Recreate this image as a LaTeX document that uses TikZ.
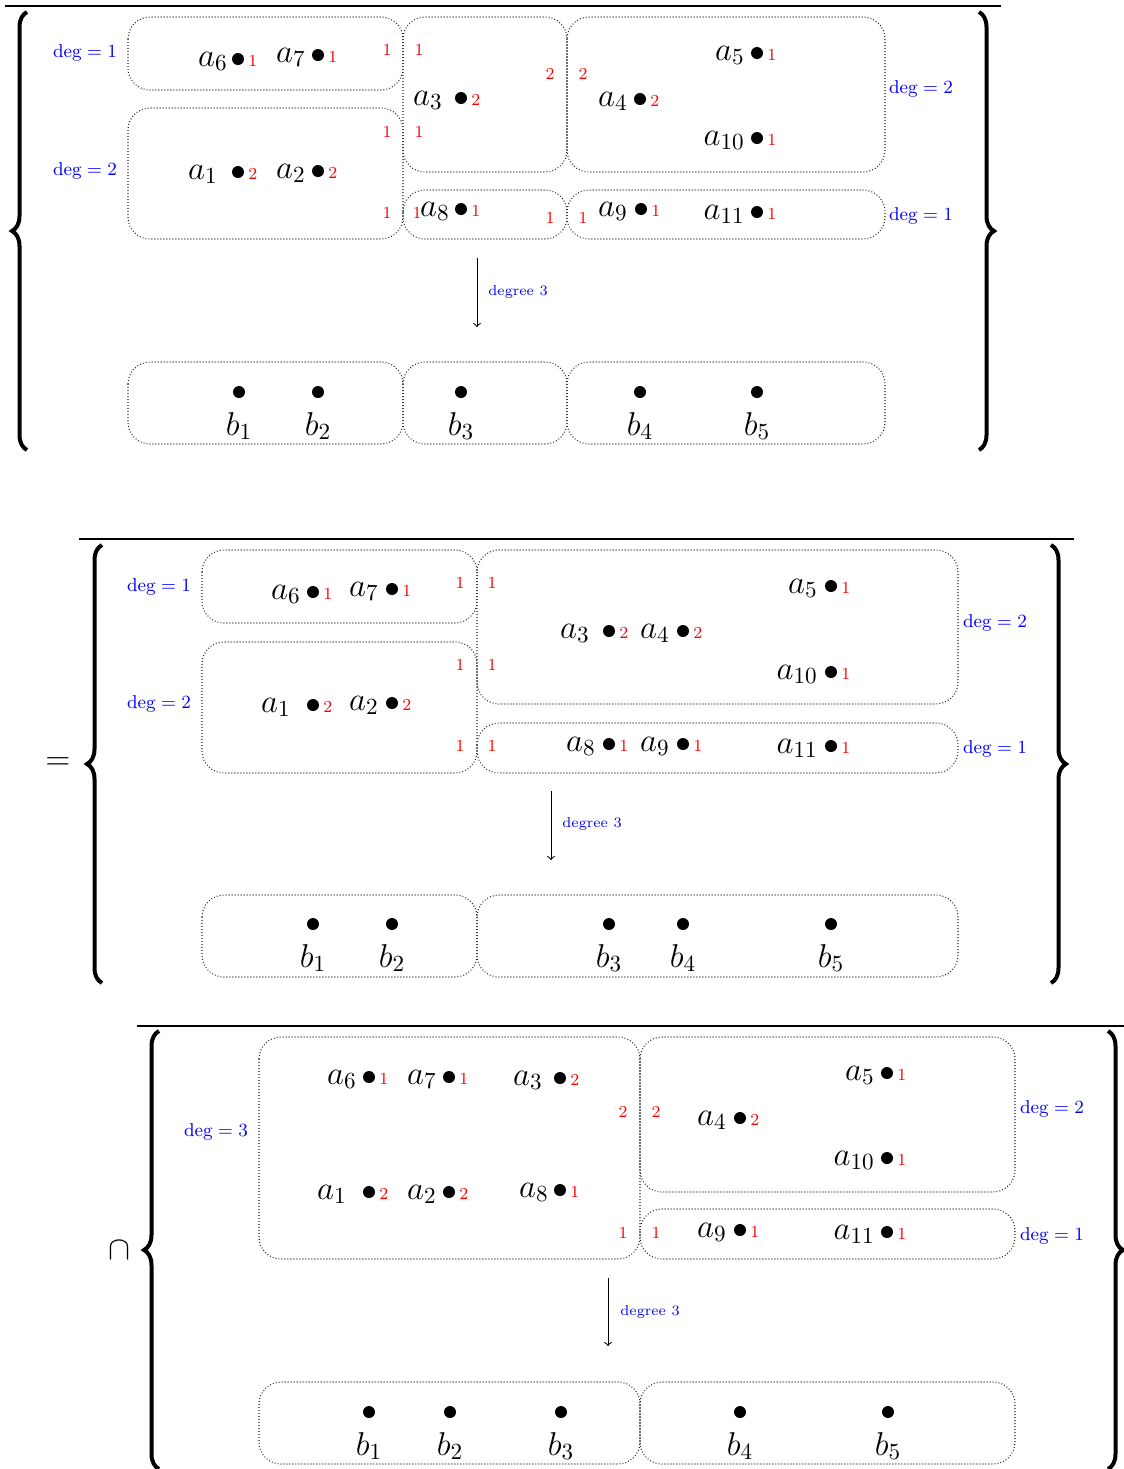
\RequirePackage{fix-cm}
\documentclass[tikz,border=0pt]{standalone}
\usetikzlibrary{decorations.pathreplacing}

\tikzset{
  grp/.style={draw=black!85, line width=0.55pt, dash pattern=on 0.45pt off 1.05pt, rounded corners=11pt},
  ptdot/.style={circle, fill=black, inner sep=0pt, minimum size=6pt},
  alab/.style={inner sep=0pt, font=\fontsize{16.5}{20}\selectfont},
  cnt/.style={inner sep=0pt, text=red, font=\fontsize{8.4}{10}\selectfont},
  deglab/.style={inner sep=0pt, text=blue, font=\fontsize{9.3}{11}\selectfont},
  maplab/.style={inner sep=0pt, text=blue, font=\fontsize{7.2}{9}\selectfont, anchor=west},
  maparrow/.style={->, line width=0.5pt},
  bigbrace/.style={decorate, decoration={brace, amplitude=7.5pt}, line width=2pt},
  toprule/.style={line width=0.8pt},
}

% point a_i: name, dot x, dot y, gap to label, label, multiplicity
\newcommand\pelem[6]{%
  \node[ptdot] (#1) at (#2,#3) {};
  \node[alab, anchor=base east] (#1-l) at (#2-#4,#3+7) {$#5$};
  \node[cnt, anchor=base west] (#1-c) at (#2+10,#3+7) {#6};
}
% point b_j: name, x, dot y, label
\newcommand\belem[4]{%
  \node[ptdot] (#1) at (#2,#3) {};
  \node[alab, anchor=base] (#1-l) at (#2,#3+43) {$#4$};
}

\begin{document}
\begin{tikzpicture}[x=0.5pt,y=-0.5pt]
\useasboundingbox (0,0) rectangle (1124,1469);

% ================= first set =================
\draw[toprule] (5,6) -- (1001,6);
\draw[bigbrace] (27,450) -- (27,12);
\draw[bigbrace] (979,12) -- (979,450);

\draw[grp] (128,17) rectangle (403,90);
\draw[grp] (128,108) rectangle (403,239);
\draw[grp] (403,17) rectangle (567,172);
\draw[grp] (403,190) rectangle (567,239);
\draw[grp] (567,17) rectangle (885,172);
\draw[grp] (567,190) rectangle (885,239);

\node[deglab] (p1d1) at (85,53) {$\deg = 1$};
\node[deglab] (p1d2) at (85,171) {$\deg = 2$};
\node[deglab] (p1d3) at (921,89) {$\deg = 2$};
\node[deglab] (p1d4) at (921,216) {$\deg = 1$};

\pelem{p1a6}{238}{59}{10}{a_6}{1}
\pelem{p1a7}{318}{55}{12}{a_7}{1}
\pelem{p1a1}{238}{172}{20}{a_1}{2}
\pelem{p1a2}{318}{171}{12}{a_2}{2}
\pelem{p1a3}{461}{98}{18}{a_3}{2}
\pelem{p1a8}{461}{209}{11}{a_8}{1}
\pelem{p1a4}{640}{99}{12}{a_4}{2}
\pelem{p1a5}{757}{53}{12}{a_5}{1}
\pelem{p1a10}{757}{138}{12}{a_{10}}{1}
\pelem{p1a9}{641}{209}{13}{a_9}{1}
\pelem{p1a11}{757}{212}{12}{a_{11}}{1}

\node[cnt] (p1s1) at (387,50) {1};
\node[cnt] (p1s2) at (419,50) {1};
\node[cnt] (p1s3) at (550,74) {2};
\node[cnt] (p1s4) at (583,74) {2};
\node[cnt] (p1s5) at (387,132) {1};
\node[cnt] (p1s6) at (419,132) {1};
\node[cnt] (p1s7) at (387,213) {1};
\node[cnt] (p1s8) at (417,213) {1};
\node[cnt] (p1s9) at (550,218) {1};
\node[cnt] (p1s10) at (583,218) {1};

\coordinate (p1top) at (477,258);
\coordinate (p1bot) at (477,327);
\draw[maparrow] (p1top) -- (p1bot);
\node[maplab] (p1map) at (488,292) {degree 3};

\draw[grp] (128,362) rectangle (403,444);
\draw[grp] (403,362) rectangle (567,444);
\draw[grp] (567,362) rectangle (885,444);
\belem{p1b1}{239}{392}{b_1}
\belem{p1b2}{318}{392}{b_2}
\belem{p1b3}{461}{392}{b_3}
\belem{p1b4}{640}{392}{b_4}
\belem{p1b5}{757}{392}{b_5}

% ================= second set =================
\node[alab] (eqsign) at (58,764) {$=$};
\draw[toprule] (79,539) -- (1074,539);
\draw[bigbrace] (102,983) -- (102,545);
\draw[bigbrace] (1051,545) -- (1051,983);

\draw[grp] (202,550) rectangle (477,623);
\draw[grp] (202,642) rectangle (477,773);
\draw[grp] (477,550) rectangle (958,704);
\draw[grp] (477,723) rectangle (958,773);

\node[deglab] (p2d1) at (159,587) {$\deg = 1$};
\node[deglab] (p2d2) at (159,704) {$\deg = 2$};
\node[deglab] (p2d3) at (995,623) {$\deg = 2$};
\node[deglab] (p2d4) at (995,749) {$\deg = 1$};

\pelem{p2a6}{313}{592}{12}{a_6}{1}
\pelem{p2a7}{392}{589}{13}{a_7}{1}
\pelem{p2a1}{313}{705}{22}{a_1}{2}
\pelem{p2a2}{392}{703}{13}{a_2}{2}
\pelem{p2a3}{609}{631}{19}{a_3}{2}
\pelem{p2a4}{683}{631}{13}{a_4}{2}
\pelem{p2a5}{831}{586}{13}{a_5}{1}
\pelem{p2a10}{831}{672}{13}{a_{10}}{1}
\pelem{p2a8}{609}{744}{13}{a_8}{1}
\pelem{p2a9}{683}{744}{13}{a_9}{1}
\pelem{p2a11}{831}{746}{13}{a_{11}}{1}

\node[cnt] (p2s1) at (460,583) {1};
\node[cnt] (p2s2) at (492,583) {1};
\node[cnt] (p2s3) at (460,665) {1};
\node[cnt] (p2s4) at (492,665) {1};
\node[cnt] (p2s5) at (460,746) {1};
\node[cnt] (p2s6) at (492,746) {1};

\coordinate (p2top) at (551,791);
\coordinate (p2bot) at (551,860);
\draw[maparrow] (p2top) -- (p2bot);
\node[maplab] (p2map) at (562,824) {degree 3};

\draw[grp] (202,895) rectangle (477,977);
\draw[grp] (477,895) rectangle (958,977);
\belem{p2b1}{313}{924}{b_1}
\belem{p2b2}{392}{924}{b_2}
\belem{p2b3}{609}{924}{b_3}
\belem{p2b4}{683}{924}{b_4}
\belem{p2b5}{831}{924}{b_5}

% ================= third set =================
\node[alab] (capsign) at (119,1250) {$\cap$};
\draw[toprule] (137,1026) -- (1130,1026);
\draw[bigbrace] (159,1469) -- (159,1031);
\draw[bigbrace] (1108,1031) -- (1108,1469);

\draw[grp] (259,1037) rectangle (640,1259);
\draw[grp] (640,1037) rectangle (1015,1192);
\draw[grp] (640,1209) rectangle (1015,1259);

\node[deglab] (p3d1) at (216,1132) {$\deg = 3$};
\node[deglab] (p3d2) at (1052,1109) {$\deg = 2$};
\node[deglab] (p3d3) at (1052,1236) {$\deg = 1$};

\pelem{p3a6}{369}{1077}{12}{a_6}{1}
\pelem{p3a7}{449}{1077}{12}{a_7}{1}
\pelem{p3a3}{560}{1078}{17}{a_3}{2}
\pelem{p3a1}{369}{1192}{22}{a_1}{2}
\pelem{p3a2}{449}{1192}{12}{a_2}{2}
\pelem{p3a8}{560}{1190}{11}{a_8}{1}
\pelem{p3a5}{887}{1073}{12}{a_5}{1}
\pelem{p3a4}{740}{1118}{13}{a_4}{2}
\pelem{p3a10}{887}{1158}{12}{a_{10}}{1}
\pelem{p3a9}{740}{1230}{13}{a_9}{1}
\pelem{p3a11}{887}{1232}{12}{a_{11}}{1}

\node[cnt] (p3s1) at (623,1112) {2};
\node[cnt] (p3s2) at (656,1112) {2};
\node[cnt] (p3s3) at (623,1233) {1};
\node[cnt] (p3s4) at (656,1233) {1};

\coordinate (p3top) at (608,1278);
\coordinate (p3bot) at (608,1346);
\draw[maparrow] (p3top) -- (p3bot);
\node[maplab] (p3map) at (620,1312) {degree 3};

\draw[grp] (259,1382) rectangle (640,1464);
\draw[grp] (640,1382) rectangle (1015,1464);
\belem{p3b1}{369}{1412}{b_1}
\belem{p3b2}{450}{1412}{b_2}
\belem{p3b3}{561}{1412}{b_3}
\belem{p3b4}{740}{1412}{b_4}
\belem{p3b5}{888}{1412}{b_5}

\end{tikzpicture}
\end{document}
